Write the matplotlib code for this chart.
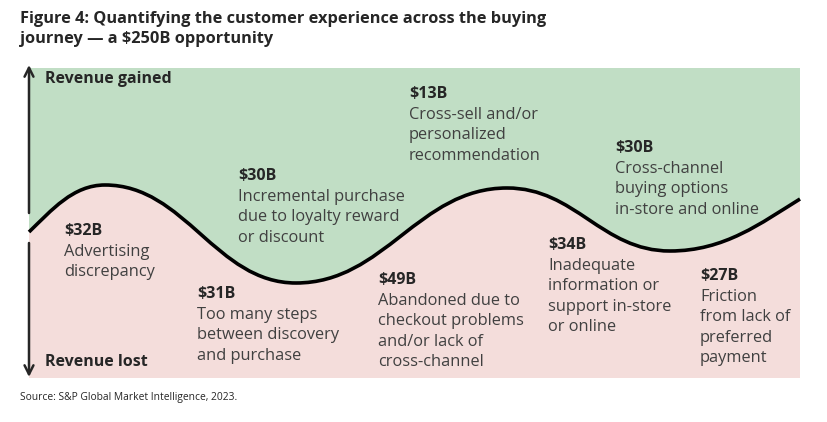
import matplotlib.pyplot as plt
from matplotlib.path import Path
from matplotlib.patches import PathPatch

plt.rcParams['font.family'] = ['Open Sans', 'DejaVu Sans']

title = "Figure 4: Quantifying the customer experience across the buying\njourney \u2014 a $250B opportunity"
source = "Source: S&P Global Market Intelligence, 2023."

# wave knots (pixel units, y down)
knot_x = [29, 105, 296, 507, 670, 800]
knot_y = [232, 185, 283, 188, 251, 199]

amounts = ["$32B", "$31B", "$30B", "$49B", "$13B", "$34B", "$30B", "$27B"]
descs = [
    ["Advertising", "discrepancy"],
    ["Too many steps", "between discovery", "and purchase"],
    ["Incremental purchase", "due to loyalty reward", "or discount"],
    ["Abandoned due to", "checkout problems", "and/or lack of", "cross-channel"],
    ["Cross-sell and/or", "personalized", "recommendation"],
    ["Inadequate", "information or", "support in-store", "or online"],
    ["Cross-channel", "buying options", "in-store and online"],
    ["Friction", "from lack of", "preferred", "payment"],
]
# text anchors (left x, baseline of amount)
pos = [(64, 235), (197, 298), (238, 180), (378, 284),
       (409, 98), (548, 249), (615, 152), (700, 280)]

green = '#c1dec5'
pink = '#f4dddb'
ink = '#262626'
body = '#404040'

left, right, top, bottom = 29, 800, 68, 378

fig = plt.figure(figsize=(8.28, 4.22), dpi=100)
ax = fig.add_axes([0, 0, 1, 1])
ax.set_xlim(0, 828)
ax.set_ylim(422, 0)
ax.axis('off')

# build curve as cubic beziers, flat at the humps
verts = [(knot_x[0], knot_y[0])]
codes = [Path.MOVETO]
n = len(knot_x)
for i in range(n - 1):
    x0, y0, x1, y1 = knot_x[i], knot_y[i], knot_x[i+1], knot_y[i+1]
    w = x1 - x0
    k = 0.42
    if i == 0:
        c1 = (x0 + w*0.3, y0 - 22)
    else:
        c1 = (x0 + w*k, y0)
    if i == n - 2:
        c2 = (x1 - w*0.3, y1 + 24)
    else:
        c2 = (x1 - w*k, y1)
    verts += [c1, c2, (x1, y1)]
    codes += [Path.CURVE4]*3
curve = Path(verts, codes)

up = Path(verts + [(right, top), (left, top), verts[0]],
          codes + [Path.LINETO, Path.LINETO, Path.CLOSEPOLY])
down = Path(verts + [(right, bottom), (left, bottom), verts[0]],
            codes + [Path.LINETO, Path.LINETO, Path.CLOSEPOLY])
ax.add_patch(PathPatch(up, fc=green, ec='none'))
ax.add_patch(PathPatch(down, fc=pink, ec='none'))
ax.add_patch(PathPatch(curve, fc='none', ec='black', lw=2.6, capstyle='butt'))

# vertical arrows
ax.annotate('', xy=(left, 65), xytext=(left, 213),
            arrowprops=dict(arrowstyle='->', lw=1.8, color=ink,
                            mutation_scale=16, shrinkA=0, shrinkB=0))
ax.annotate('', xy=(left, 377), xytext=(left, 243),
            arrowprops=dict(arrowstyle='->', lw=1.8, color=ink,
                            mutation_scale=16, shrinkA=0, shrinkB=0))

ax.text(45, 83, "Revenue gained", fontsize=11.5, fontweight='bold', color=ink)
ax.text(45, 366, "Revenue lost", fontsize=11.5, fontweight='bold', color=ink)

for amt, lines, (x, y) in zip(amounts, descs, pos):
    ax.text(x, y, amt, fontsize=11.5, fontweight='bold', color=ink, va='baseline')
    for j, ln in enumerate(lines):
        ax.text(x, y + 20.6*(j+1), ln, fontsize=11.8, color=body, va='baseline')

ax.text(20, 11, title, fontsize=11.8, fontweight='bold', color=ink, va='top',
        linespacing=1.3)
ax.text(20, 400, source, fontsize=7.4, color=ink, va='baseline')

fig.savefig('out.png', dpi=100)
